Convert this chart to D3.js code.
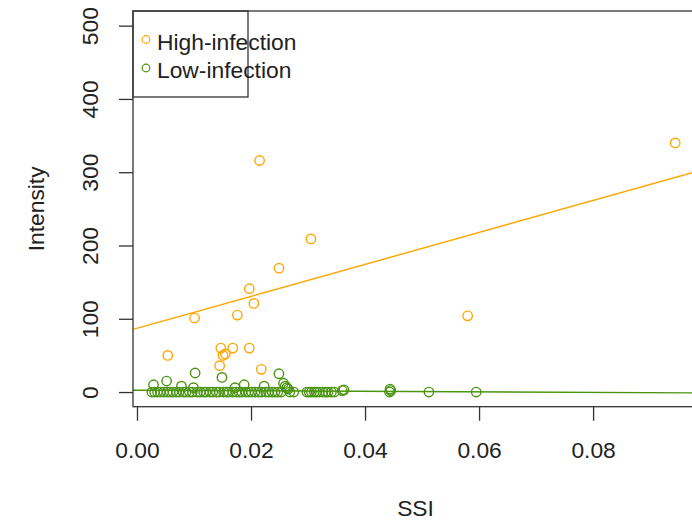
<!DOCTYPE html>
<html>
<head>
<meta charset="utf-8">
<script src="https://cdn.jsdelivr.net/npm/d3@7"></script>
<style>
  body { margin: 0; background: #fff; }
  svg { display: block; font-family: "Liberation Sans", Arial, sans-serif; }
</style>
</head>
<body>
<svg id="chart"></svg>
<script>
const canWidth = 692;
const canHeight = 521;
const boxLeft = 133;
const boxRight = 698;
const boxTop = 11;
const boxBottom = 406.7;
const fontSize = 22.8;

const xTicks = [0, 0.02, 0.04, 0.06, 0.08];
const yTicks = [0, 100, 200, 300, 400, 500];
const groups = ["High-infection", "Low-infection"];
const groupColors = ["#FFA500", "#4A9410"];

// high infection points
const highSSI = [0.0944, 0.0215, 0.0305, 0.0249, 0.0197, 0.0205, 0.0176, 0.0101, 0.0580,
  0.0054, 0.0147, 0.0168, 0.0197, 0.0151, 0.0155, 0.0145, 0.0218];
const highIntensity = [340, 316, 209, 169, 141, 121, 105, 101, 104,
  50, 60, 60, 60, 50, 52, 36, 31];

// low infection points
const lowSSI = [0.0029, 0.0052, 0.0078, 0.0102, 0.0099, 0.0149, 0.0172, 0.0188, 0.0223, 0.0249,
  0.0257, 0.0260, 0.0263, 0.0265, 0.0360, 0.0363, 0.0444, 0.0445,
  0.0026, 0.0031, 0.0036, 0.0041, 0.0047, 0.0053, 0.0058, 0.0063, 0.0069, 0.0074, 0.0081,
  0.0086, 0.0092, 0.0097, 0.0106, 0.0111, 0.0117, 0.0121, 0.0128, 0.0133, 0.0139, 0.0144,
  0.0152, 0.0157, 0.0161, 0.0168, 0.0174, 0.0179, 0.0184, 0.0191, 0.0196, 0.0201, 0.0207,
  0.0213, 0.0218, 0.0226, 0.0231, 0.0237, 0.0242, 0.0247, 0.0253, 0.0268, 0.0275,
  0.0298, 0.0302, 0.0306, 0.0311, 0.0315, 0.0320, 0.0326, 0.0331, 0.0335, 0.0341, 0.0346,
  0.0443, 0.0512, 0.0595];
const lowIntensity = [10, 15, 8, 26, 6, 20, 6, 10, 8, 25,
  12, 8, 6, 4, 2, 3, 4, 2,
  0, 0, 0, 0, 0, 0, 0, 0, 0, 0, 0,
  0, 0, 0, 0, 0, 0, 0, 0, 0, 0, 0,
  0, 0, 0, 0, 0, 0, 0, 0, 0, 0, 0,
  0, 0, 0, 0, 0, 0, 0, 0, 0, 0,
  0, 0, 0, 0, 0, 0, 0, 0, 0, 0, 0,
  0, 0, 0];

// fitted lines (intercept, slope)
const highFit = [87, 2180];
const lowFit = [2.5, -37];

const xs = d3.scaleLinear().domain([-0.0007, 0.0984]).range([boxLeft, boxRight]);
const ys = d3.scaleLinear().domain([-20, 520]).range([boxBottom, boxTop]);

const svg = d3.select('#chart').attr('width', canWidth).attr('height', canHeight);

svg.append('defs').append('clipPath').attr('id', 'plotclip')
  .append('rect')
  .attr('x', boxLeft).attr('y', boxTop)
  .attr('width', boxRight - boxLeft).attr('height', boxBottom - boxTop);

const plot = svg.append('g').attr('clip-path', 'url(#plotclip)');

function drawPoints(xv, yv, color) {
  plot.append('g')
    .selectAll('circle')
    .data(xv.map((d, i) => [d, yv[i]]))
    .enter()
    .append('circle')
    .attr('cx', d => xs(d[0]))
    .attr('cy', d => ys(d[1]))
    .attr('r', 4.7)
    .attr('fill', 'none')
    .attr('stroke', color)
    .attr('stroke-width', 1.4);
}

function drawFit(fit, color) {
  const dom = xs.domain();
  plot.append('line')
    .attr('x1', xs(dom[0])).attr('y1', ys(fit[0] + fit[1] * dom[0]))
    .attr('x2', xs(dom[1])).attr('y2', ys(fit[0] + fit[1] * dom[1]))
    .attr('stroke', color)
    .attr('stroke-width', 1.4);
}

drawPoints(highSSI, highIntensity, groupColors[0]);
drawPoints(lowSSI, lowIntensity, groupColors[1]);
drawFit(highFit, groupColors[0]);
drawFit(lowFit, groupColors[1]);

// plot box
svg.append('rect')
  .attr('x', boxLeft).attr('y', boxTop)
  .attr('width', boxRight - boxLeft).attr('height', boxBottom - boxTop)
  .attr('fill', 'none')
  .attr('stroke', '#333')
  .attr('stroke-width', 1.3);

// axes
const xa = d3.axisBottom(xs).tickValues(xTicks).tickFormat(d3.format('.2f'))
  .tickSize(14).tickSizeOuter(0).tickPadding(21);
const ya = d3.axisLeft(ys).tickValues(yTicks).tickFormat(d3.format('d'))
  .tickSize(14).tickSizeOuter(0);

const gx = svg.append('g')
  .attr('transform', `translate(0, ${boxBottom})`)
  .call(xa);
gx.select('.domain').remove();
gx.selectAll('line').attr('stroke', '#333').attr('stroke-width', 1.3);
gx.selectAll('text').attr('font-size', fontSize).attr('fill', '#222')
  .attr('font-family', '"Liberation Sans", Arial, sans-serif');

const gy = svg.append('g')
  .attr('transform', `translate(${boxLeft}, 0)`)
  .call(ya);
gy.select('.domain').remove();
gy.selectAll('line').attr('stroke', '#333').attr('stroke-width', 1.3);
// R draws the y labels parallel to the axis
gy.selectAll('text')
  .attr('font-size', fontSize).attr('fill', '#222')
  .attr('font-family', '"Liberation Sans", Arial, sans-serif')
  .attr('x', 0).attr('y', 0).attr('dy', null)
  .attr('text-anchor', 'middle')
  .attr('dominant-baseline', 'central')
  .attr('transform', 'translate(-43, 0) rotate(-90)');

// axis titles
svg.append('text')
  .attr('x', (boxLeft + boxRight) / 2)
  .attr('y', 516)
  .attr('text-anchor', 'middle')
  .attr('font-size', fontSize)
  .attr('fill', '#222')
  .text('SSI');

svg.append('text')
  .attr('transform', `translate(44, ${(boxTop + boxBottom) / 2}) rotate(-90)`)
  .attr('text-anchor', 'middle')
  .attr('font-size', fontSize)
  .attr('fill', '#222')
  .text('Intensity');

// legend
const legend = svg.append('g');
legend.append('rect')
  .attr('x', boxLeft).attr('y', boxTop)
  .attr('width', 115).attr('height', 86)
  .attr('fill', 'none')
  .attr('stroke', '#333')
  .attr('stroke-width', 1.3);
groups.forEach((g, i) => {
  legend.append('circle')
    .attr('cx', 146).attr('cy', 39.5 + i * 28.5)
    .attr('r', 3.8)
    .attr('fill', 'none')
    .attr('stroke', groupColors[i])
    .attr('stroke-width', 1.2);
  legend.append('text')
    .attr('x', 157).attr('y', 49.5 + i * 28.5)
    .attr('font-size', fontSize)
    .attr('fill', '#222')
    .text(g);
});
</script>
</body>
</html>
